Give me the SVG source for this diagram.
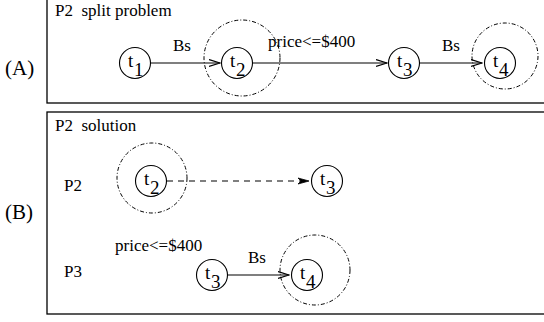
<svg xmlns="http://www.w3.org/2000/svg" width="544" height="322" viewBox="0 0 544 322">
<defs>
<style>
text{font-family:"Liberation Serif","Times New Roman",serif;fill:#000;white-space:pre}
.lbl{font-size:17px}
.big{font-size:21px}
.t{font-size:19px}
.node{fill:#fff;stroke:#000;stroke-width:1.1}
.grp{fill:none;stroke:#000;stroke-width:1;stroke-dasharray:4 2 1 2}
.frame{fill:none;stroke:#000;stroke-width:1.3}
.edge{fill:none;stroke:#000;stroke-width:1.1}
.dash{stroke-dasharray:6 5}
</style>
<marker id="ah" markerWidth="12" markerHeight="10" refX="11" refY="4" orient="auto" markerUnits="userSpaceOnUse">
<path d="M0,0.5 L11,4 L0,7.5" fill="none" stroke="#000" stroke-width="1.2"/>
</marker>
<marker id="ahf" markerWidth="12" markerHeight="10" refX="11" refY="4" orient="auto" markerUnits="userSpaceOnUse">
<path d="M0,1 L11,4 L0,7 L3,4 Z" fill="#000" stroke="#000" stroke-width="0.8"/>
</marker>
</defs>

<rect class="frame" x="47" y="-2" width="500" height="105"/>
<rect class="frame" x="47" y="112" width="500" height="202"/>
<text class="big" x="5" y="75">(A)</text>
<text class="big" x="5" y="219">(B)</text>
<text class="lbl" x="55" y="16" xml:space="preserve">P2  split problem</text>
<text class="lbl" x="55" y="131" xml:space="preserve">P2  solution</text>
<text class="lbl" x="64" y="191">P2</text>
<text class="lbl" x="64" y="277">P3</text>

<g id="connectors">
<line class="edge" x1="151" y1="63" x2="220" y2="63" marker-end="url(#ah)"/>
<text class="lbl" x="173" y="51">Bs</text>
<line class="edge" x1="253" y1="63" x2="387" y2="63" marker-end="url(#ah)"/>
<text class="lbl" x="268" y="47">price&lt;=$400</text>
<line class="edge" x1="420" y1="63" x2="482" y2="63" marker-end="url(#ah)"/>
<text class="lbl" x="442" y="51">Bs</text>
<line class="edge dash" x1="167" y1="181" x2="309" y2="181" marker-end="url(#ahf)"/>
<line class="edge" x1="228" y1="275" x2="289" y2="275" marker-end="url(#ah)"/>
<text class="lbl" x="248" y="263">Bs</text>
<text class="lbl" x="115" y="251">price&lt;=$400</text>
</g>

<g id="A-t1">
<circle class="node" cx="135" cy="63" r="15.5"/>
<text class="t" x="128" y="67">t</text><text class="t" x="134" y="76">1</text>
</g>
<g id="A-t2">
<circle class="grp" cx="242" cy="58" r="38"/>
<circle class="node" cx="237" cy="63" r="15.5"/>
<text class="t" x="230" y="67">t</text><text class="t" x="236" y="76">2</text>
</g>
<g id="A-t3">
<circle class="node" cx="404" cy="63" r="15.5"/>
<text class="t" x="397" y="67">t</text><text class="t" x="403" y="76">3</text>
</g>
<g id="A-t4">
<circle class="grp" cx="505" cy="56" r="33"/>
<circle class="node" cx="500" cy="63" r="15.5"/>
<text class="t" x="493" y="67">t</text><text class="t" x="499" y="76">4</text>
</g>

<g id="B-t2">
<circle class="grp" cx="152" cy="178" r="35"/>
<circle class="node" cx="151" cy="181" r="15.5"/>
<text class="t" x="144" y="185">t</text><text class="t" x="150" y="194">2</text>
</g>
<g id="B-t3a">
<circle class="node" cx="327" cy="181" r="15.5"/>
<text class="t" x="320" y="185">t</text><text class="t" x="326" y="194">3</text>
</g>
<g id="B-t3b">
<circle class="node" cx="212" cy="275" r="15.5"/>
<text class="t" x="205" y="279">t</text><text class="t" x="211" y="288">3</text>
</g>
<g id="B-t4">
<circle class="grp" cx="315" cy="270" r="35"/>
<circle class="node" cx="307" cy="275" r="15.5"/>
<text class="t" x="300" y="279">t</text><text class="t" x="306" y="288">4</text>
</g>
</svg>
